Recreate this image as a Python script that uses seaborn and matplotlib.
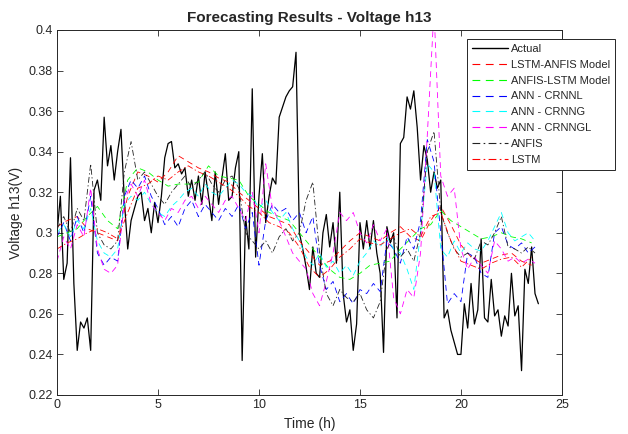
import numpy as np
import pandas as pd
import matplotlib
matplotlib.use("Agg")
import matplotlib.pyplot as plt
from matplotlib.lines import Line2D
import seaborn as sns

# ---------------- data ----------------
# Actual: 10-minute steps (hours)
t_actual = np.arange(144) / 6.0
actual = [
    0.300, 0.318, 0.277, 0.285, 0.337, 0.275, 0.242, 0.256, 0.253, 0.258, 0.242, 0.321,
    0.326, 0.316, 0.357, 0.333, 0.343, 0.326, 0.340, 0.351, 0.316, 0.292, 0.306, 0.312,
    0.318, 0.320, 0.306, 0.312, 0.300, 0.315, 0.305, 0.318, 0.337, 0.344, 0.345, 0.332,
    0.334, 0.329, 0.332, 0.318, 0.326, 0.316, 0.328, 0.314, 0.330, 0.318, 0.306, 0.330,
    0.314, 0.327, 0.339, 0.316, 0.318, 0.332, 0.340, 0.237, 0.308, 0.292, 0.371, 0.288,
    0.318, 0.339, 0.305, 0.318, 0.327, 0.324, 0.357, 0.362, 0.367, 0.370, 0.372, 0.389,
    0.300, 0.292, 0.283, 0.272, 0.293, 0.280, 0.278, 0.300, 0.309, 0.293, 0.305, 0.285,
    0.320, 0.270, 0.256, 0.262, 0.242, 0.255, 0.305, 0.292, 0.306, 0.292, 0.306, 0.290,
    0.280, 0.241, 0.303, 0.295, 0.300, 0.258, 0.344, 0.347, 0.367, 0.361, 0.370, 0.352,
    0.326, 0.343, 0.336, 0.320, 0.330, 0.322, 0.326, 0.258, 0.262, 0.252, 0.246, 0.240,
    0.240, 0.265, 0.253, 0.275, 0.255, 0.262, 0.297, 0.258, 0.256, 0.277, 0.259, 0.262,
    0.249, 0.259, 0.254, 0.280, 0.259, 0.264, 0.232, 0.282, 0.275, 0.293, 0.270, 0.265,
]

# smoother forecasts: 30-minute steps
t_half = np.arange(48) / 2.0
lstm_anfis = [
    0.303, 0.306, 0.308, 0.302, 0.300, 0.298, 0.296, 0.318, 0.330, 0.328, 0.325, 0.330,
    0.338, 0.335, 0.332, 0.330, 0.327, 0.325, 0.320, 0.316, 0.312, 0.308, 0.306, 0.304,
    0.296, 0.290, 0.284, 0.286, 0.291, 0.296, 0.300, 0.298, 0.296, 0.300, 0.303, 0.298,
    0.296, 0.306, 0.313, 0.304, 0.294, 0.288, 0.285, 0.287, 0.289, 0.290, 0.286, 0.284,
]
anfis_lstm = [
    0.298, 0.300, 0.302, 0.308, 0.313, 0.306, 0.302, 0.326, 0.332, 0.330, 0.326, 0.323,
    0.324, 0.324, 0.325, 0.333, 0.328, 0.327, 0.326, 0.318, 0.314, 0.310, 0.308, 0.306,
    0.300, 0.294, 0.288, 0.282, 0.278, 0.277, 0.280, 0.284, 0.285, 0.286, 0.292, 0.297,
    0.302, 0.304, 0.311, 0.306, 0.303, 0.300, 0.297, 0.298, 0.300, 0.298, 0.297, 0.295,
]
lstm = [
    0.292, 0.295, 0.297, 0.300, 0.302, 0.300, 0.297, 0.310, 0.322, 0.324, 0.328, 0.326,
    0.330, 0.333, 0.330, 0.328, 0.325, 0.322, 0.318, 0.313, 0.310, 0.305, 0.303, 0.300,
    0.293, 0.283, 0.278, 0.282, 0.288, 0.292, 0.297, 0.295, 0.294, 0.297, 0.300, 0.302,
    0.298, 0.308, 0.310, 0.296, 0.286, 0.284, 0.282, 0.285, 0.287, 0.288, 0.283, 0.288,
]

# jagged forecasts: 20-minute steps
t_third = np.arange(72) / 3.0
crnnl = [
    0.298, 0.305, 0.296, 0.308, 0.300, 0.318, 0.290, 0.284, 0.288, 0.286, 0.318, 0.326,
    0.322, 0.328, 0.318, 0.312, 0.304, 0.308, 0.303, 0.312, 0.316, 0.308, 0.314, 0.310,
    0.306, 0.312, 0.308, 0.314, 0.302, 0.310, 0.284, 0.306, 0.314, 0.310, 0.312, 0.306,
    0.310, 0.300, 0.308, 0.284, 0.272, 0.276, 0.266, 0.270, 0.265, 0.272, 0.270, 0.275,
    0.271, 0.296, 0.292, 0.285, 0.298, 0.292, 0.306, 0.346, 0.335, 0.300, 0.265, 0.270,
    0.266, 0.290, 0.288, 0.280, 0.278, 0.300, 0.303, 0.294, 0.292, 0.295, 0.290, 0.293,
]
crnng = [
    0.300, 0.304, 0.298, 0.306, 0.302, 0.312, 0.296, 0.290, 0.288, 0.292, 0.314, 0.318,
    0.316, 0.320, 0.314, 0.310, 0.308, 0.313, 0.316, 0.320, 0.322, 0.318, 0.324, 0.320,
    0.318, 0.322, 0.326, 0.324, 0.320, 0.318, 0.312, 0.316, 0.310, 0.306, 0.310, 0.302,
    0.296, 0.288, 0.284, 0.290, 0.283, 0.286, 0.280, 0.284, 0.279, 0.286, 0.290, 0.296,
    0.293, 0.298, 0.292, 0.290, 0.282, 0.272, 0.300, 0.334, 0.330, 0.292, 0.288, 0.296,
    0.290, 0.295, 0.292, 0.291, 0.296, 0.303, 0.310, 0.300, 0.296, 0.298, 0.300, 0.296,
]
crnngl = [
    0.286, 0.298, 0.292, 0.304, 0.298, 0.322, 0.292, 0.282, 0.280, 0.284, 0.316, 0.324,
    0.318, 0.326, 0.314, 0.310, 0.306, 0.312, 0.310, 0.316, 0.318, 0.312, 0.318, 0.314,
    0.310, 0.316, 0.318, 0.312, 0.306, 0.320, 0.300, 0.334, 0.312, 0.306, 0.298, 0.290,
    0.286, 0.282, 0.270, 0.264, 0.276, 0.290, 0.310, 0.306, 0.310, 0.300, 0.295, 0.304,
    0.296, 0.302, 0.268, 0.260, 0.272, 0.268, 0.290, 0.348, 0.410, 0.328, 0.318, 0.322,
    0.292, 0.282, 0.288, 0.284, 0.280, 0.296, 0.292, 0.286, 0.288, 0.285, 0.287, 0.285,
]
anfis = [
    0.302, 0.308, 0.300, 0.312, 0.306, 0.334, 0.300, 0.294, 0.292, 0.296, 0.330, 0.345,
    0.326, 0.330, 0.324, 0.318, 0.314, 0.320, 0.324, 0.328, 0.322, 0.326, 0.330, 0.324,
    0.320, 0.326, 0.328, 0.322, 0.300, 0.296, 0.292, 0.296, 0.290, 0.298, 0.302, 0.296,
    0.300, 0.316, 0.325, 0.290, 0.270, 0.264, 0.272, 0.268, 0.266, 0.270, 0.262, 0.258,
    0.266, 0.292, 0.298, 0.288, 0.292, 0.286, 0.300, 0.340, 0.350, 0.310, 0.300, 0.292,
    0.288, 0.290, 0.287, 0.296, 0.294, 0.300, 0.308, 0.293, 0.292, 0.290, 0.293, 0.290,
]

series_labels = ["Actual", "LSTM-ANFIS Model", "ANFIS-LSTM Model", "ANN - CRNNL",
                 "ANN - CRNNG", "ANN - CRNNGL", "ANFIS", "LSTM"]

# ---------------- style ----------------
sns.set_style("white")
plt.rcParams["font.family"] = ["Liberation Sans", "DejaVu Sans"]
plt.rcParams["xtick.direction"] = "in"
plt.rcParams["ytick.direction"] = "in"

fig = plt.figure(figsize=(6.28, 4.34), dpi=100)
ax = fig.add_axes([0.0908, 0.0899, 0.804, 0.841])

DASH = (0, (7, 5))
DASHDOT = (0, (7, 3, 1.5, 3))

specs = [
    (t_actual, actual, "black", "-", 0.9),
    (t_half, lstm_anfis, "#ff0000", DASH, 0.6),
    (t_half, anfis_lstm, "#00ff00", DASH, 0.6),
    (t_third, crnnl, "#0000ff", DASH, 0.6),
    (t_third, crnng, "#00ffff", DASH, 0.6),
    (t_third, crnngl, "#ff00ff", DASH, 0.6),
    (t_third, anfis, "#222222", DASHDOT, 0.6),
    (t_half, lstm, "#ff0000", DASHDOT, 0.6),
]

handles = []
for (tx, vals, col, ls, lw), lab in zip(specs, series_labels):
    df = pd.DataFrame({"t": tx, "v": vals})
    sns.lineplot(data=df, x="t", y="v", ax=ax, color=col, linestyle=ls,
                 linewidth=lw)
    handles.append(Line2D([0], [0], color=col, linestyle=ls,
                          linewidth=0.8 if lw < 0.9 else 1.0))

ax.set_xlim(0, 25)
ax.set_ylim(0.22, 0.4)
ax.set_xticks([0, 5, 10, 15, 20, 25])
ax.set_yticks(np.arange(0.22, 0.4001, 0.02))
ax.set_yticklabels(["0.22", "0.24", "0.26", "0.28", "0.3", "0.32", "0.34",
                    "0.36", "0.38", "0.4"])
ax.tick_params(axis="both", which="both", labelsize=9, length=4, width=0.6,
               top=True, right=True, bottom=True, left=True, pad=3,
               colors="#262626")
for s in ax.spines.values():
    s.set_color("#262626")
    s.set_linewidth(0.7)

ax.set_xlabel("Time (h)", fontsize=10, color="#262626")
ax.set_ylabel("Voltage h13(V)", fontsize=10, color="#262626")
ax.set_title("Forecasting Results - Voltage h13", fontsize=11, fontweight="bold",
             pad=6)

leg = ax.legend(handles, series_labels, loc="upper left",
                bbox_to_anchor=(0.812, 0.975), fontsize=8,
                frameon=True, fancybox=False, edgecolor="#262626",
                framealpha=1, handlelength=3.2, borderpad=0.45,
                labelspacing=0.52, handletextpad=0.3, borderaxespad=0)
leg.get_frame().set_linewidth(0.7)

fig.savefig("out.png", dpi=100)
